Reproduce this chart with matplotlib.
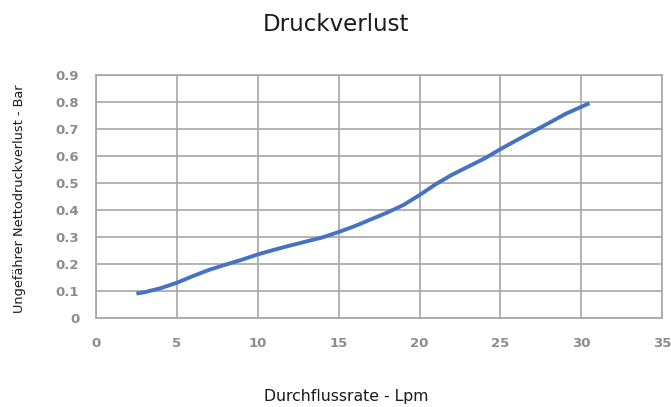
import matplotlib.pyplot as plt

# Durchflussrate (Lpm) vs. Druckverlust (Bar)
flow = [2.5, 3, 4, 5, 6, 7, 8, 9, 10, 11, 12, 13, 14, 15, 16, 17, 18, 19,
        20, 21, 22, 23, 24, 25, 26, 27, 28, 29, 30, 30.5]
pressure = [0.09, 0.095, 0.11, 0.13, 0.155, 0.178, 0.197, 0.215, 0.235, 0.252,
            0.268, 0.283, 0.298, 0.318, 0.34, 0.365, 0.39, 0.418, 0.455, 0.495,
            0.53, 0.56, 0.59, 0.625, 0.658, 0.69, 0.722, 0.755, 0.782, 0.795]

xticks = [0, 5, 10, 15, 20, 25, 30, 35]
yticks = [0, 0.1, 0.2, 0.3, 0.4, 0.5, 0.6, 0.7, 0.8, 0.9]
ytick_labels = ['0', '0.1', '0.2', '0.3', '0.4', '0.5', '0.6', '0.7', '0.8', '0.9']

fig = plt.figure(figsize=(6.71, 4.07), dpi=100)
ax = fig.add_axes([0.143, 0.219, 0.844, 0.597])

ax.plot(flow, pressure, color='#4472C4', linewidth=2.8, solid_capstyle='butt')

ax.set_xlim(0, 35)
ax.set_ylim(0, 0.9)
ax.set_xticks(xticks)
ax.set_yticks(yticks)
ax.set_yticklabels(ytick_labels)
ax.grid(True, color='#a6a6a6', linewidth=1.2)
ax.set_axisbelow(True)
for s in ax.spines.values():
    s.set_color('#a6a6a6')
    s.set_linewidth(1.2)
ax.tick_params(length=0, labelsize=9.5, labelcolor='#8c8c8c')
ax.tick_params(axis='x', pad=14)
ax.tick_params(axis='y', pad=12)
for lbl in ax.get_xticklabels() + ax.get_yticklabels():
    lbl.set_fontweight('bold')

fig.text(0.501, 0.941, 'Druckverlust', ha='center', va='center', fontsize=16.5,
         color='#1a1a1a')
fig.text(0.516, 0.025, 'Durchflussrate - Lpm', ha='center', va='center',
         fontsize=11.3, color='#1a1a1a')
fig.text(0.029, 0.512, 'Ungefährer Nettodruckverlust - Bar', ha='center', va='center',
         rotation=90, fontsize=9.3, color='#1a1a1a')

fig.savefig('out.png', dpi=100)
